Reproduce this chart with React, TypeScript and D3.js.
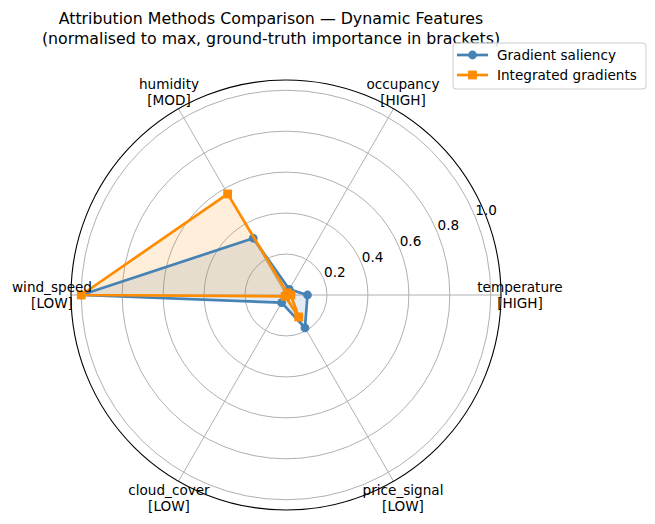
import * as d3 from 'd3'
import { useEffect, useRef } from 'react'

const features = ['temperature', 'occupancy', 'humidity', 'wind_speed', 'cloud_cover', 'price_signal']
const truth = ['HIGH', 'HIGH', 'MOD', 'LOW', 'LOW', 'LOW']
const gradientSaliency = [0.105, 0.032, 0.32, 1.0, 0.043, 0.185]
const integratedGradients = [0.024, 0.012, 0.57, 1.0, 0.008, 0.124]
const rTicks = [0.2, 0.4, 0.6, 0.8, 1.0]

const series = [
  { name: 'Gradient saliency', values: gradientSaliency, color: '#4682b4', marker: 'circle' },
  { name: 'Integrated gradients', values: integratedGradients, color: '#ff8c00', marker: 'square' },
]

export default function App() {
  const svgRef = useRef<SVGSVGElement | null>(null)

  useEffect(() => {
    if (!svgRef.current) return
    const svg = d3.select(svgRef.current)
    svg.selectAll('*').remove()

    const width = 655
    const height = 524
    const cx = 286
    const cy = 295
    const font = 'DejaVu Sans, sans-serif'
    const fs = 13.6

    const r = d3.scaleLinear().domain([0, 1.05]).range([0, 215])
    const angle = d3
      .scaleLinear()
      .domain([0, features.length])
      .range([0, 2 * Math.PI])

    const px = (i: number, v: number) => cx + r(v) * Math.cos(angle(i))
    const py = (i: number, v: number) => cy - r(v) * Math.sin(angle(i))

    svg.attr('width', width).attr('height', height)
    svg.append('rect').attr('width', width).attr('height', height).attr('fill', 'white')

    const g = svg.append('g')

    // grid rings
    g.selectAll('circle.grid')
      .data(rTicks)
      .join('circle')
      .attr('cx', cx)
      .attr('cy', cy)
      .attr('r', (d) => r(d))
      .attr('fill', 'none')
      .attr('stroke', '#b0b0b0')
      .attr('stroke-width', 1)

    // spokes
    g.selectAll('line.spoke')
      .data(features)
      .join('line')
      .attr('x1', cx)
      .attr('y1', cy)
      .attr('x2', (_, i) => px(i, 1.05))
      .attr('y2', (_, i) => py(i, 1.05))
      .attr('stroke', '#b0b0b0')
      .attr('stroke-width', 1)

    const line = d3
      .line<number>()
      .x((d, i) => px(i, d))
      .y((d, i) => py(i, d))
      .curve(d3.curveLinearClosed)

    series.forEach((s) => {
      g.append('path')
        .attr('d', line(s.values))
        .attr('fill', s.color)
        .attr('fill-opacity', 0.15)
        .attr('stroke', 'none')
    })

    series.forEach((s) => {
      g.append('path')
        .attr('d', line(s.values))
        .attr('fill', 'none')
        .attr('stroke', s.color)
        .attr('stroke-width', 2.7)
        .attr('stroke-linejoin', 'round')

      if (s.marker === 'circle') {
        g.selectAll(null)
          .data(s.values)
          .join('circle')
          .attr('cx', (d, i) => px(i, d))
          .attr('cy', (d, i) => py(i, d))
          .attr('r', 4.4)
          .attr('fill', s.color)
      } else {
        g.selectAll(null)
          .data(s.values)
          .join('rect')
          .attr('x', (d, i) => px(i, d) - 4.4)
          .attr('y', (d, i) => py(i, d) - 4.4)
          .attr('width', 8.8)
          .attr('height', 8.8)
          .attr('fill', s.color)
      }
    })

    // frame
    g.append('circle')
      .attr('cx', cx)
      .attr('cy', cy)
      .attr('r', r(1.05))
      .attr('fill', 'none')
      .attr('stroke', 'black')
      .attr('stroke-width', 1.1)

    // radial tick labels
    const rlab = (22.5 * Math.PI) / 180
    g.selectAll('text.rtick')
      .data(rTicks)
      .join('text')
      .attr('x', (d) => cx + r(d) * Math.cos(rlab) + 11)
      .attr('y', (d) => cy - r(d) * Math.sin(rlab) - 7)
      .attr('text-anchor', 'middle')
      .attr('dominant-baseline', 'central')
      .attr('font-family', font)
      .attr('font-size', fs)
      .text((d) => d.toFixed(1))

    // feature labels
    features.forEach((f, i) => {
      const x = cx + 234 * Math.cos(angle(i))
      const y = cy - 234 * Math.sin(angle(i))
      const t = g
        .append('text')
        .attr('text-anchor', 'middle')
        .attr('font-family', font)
        .attr('font-size', fs)
      t.append('tspan').attr('x', x).attr('y', y - 8).attr('dominant-baseline', 'central').text(f)
      t.append('tspan').attr('x', x).attr('y', y + 8).attr('dominant-baseline', 'central').text(`[${truth[i]}]`)
    })

    // title
    const title = svg
      .append('text')
      .attr('text-anchor', 'middle')
      .attr('font-family', font)
      .attr('font-size', 15.8)
    title.append('tspan').attr('x', 271).attr('y', 18.5).attr('dominant-baseline', 'central')
      .text('Attribution Methods Comparison \u2014 Dynamic Features')
    title.append('tspan').attr('x', 271).attr('y', 38.5).attr('dominant-baseline', 'central')
      .text('(normalised to max, ground-truth importance in brackets)')

    // legend
    const lg = svg.append('g').attr('transform', 'translate(453,43)')
    lg.append('rect')
      .attr('width', 193)
      .attr('height', 46)
      .attr('rx', 3)
      .attr('fill', 'white')
      .attr('fill-opacity', 0.8)
      .attr('stroke', '#cccccc')
    series.forEach((s, i) => {
      const y = 12 + i * 20
      lg.append('line')
        .attr('x1', 4).attr('x2', 35).attr('y1', y).attr('y2', y)
        .attr('stroke', s.color).attr('stroke-width', 2.7)
      if (s.marker === 'circle') {
        lg.append('circle').attr('cx', 19.5).attr('cy', y).attr('r', 4.4).attr('fill', s.color)
      } else {
        lg.append('rect').attr('x', 15.1).attr('y', y - 4.4).attr('width', 8.8).attr('height', 8.8).attr('fill', s.color)
      }
      lg.append('text')
        .attr('x', 44)
        .attr('y', y)
        .attr('dominant-baseline', 'central')
        .attr('font-family', font)
        .attr('font-size', fs)
        .text(s.name)
    })
  }, [])

  return <svg ref={svgRef} style={{ position: 'absolute', left: 0, top: 0, display: 'block' }} />
}
